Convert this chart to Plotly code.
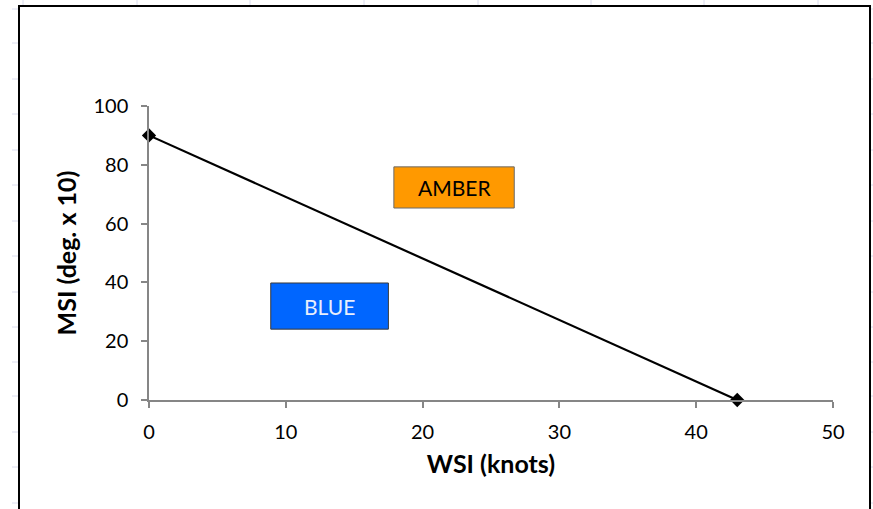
import plotly.graph_objects as go

# Data
wsi_knots = [0, 43]
msi_deg10 = [90, 0]
x_ticks = [0, 10, 20, 30, 40, 50]
y_ticks = [0, 20, 40, 60, 80, 100]
zone_labels = ["AMBER", "BLUE"]

FONT = "Lato"
W, H = 873, 509
L, R, T, B = 149, 40, 106, 109
PW, PH = W - L - R, H - T - B

def px_to_paper_x(px):
    return (px - L) / PW

def px_to_paper_y(py):
    return (H - B - py) / PH

fig = go.Figure()
fig.add_trace(go.Scatter(
    x=wsi_knots, y=msi_deg10, mode="lines+markers",
    line=dict(color="black", width=2.2),
    marker=dict(symbol="diamond", size=11, color="black"),
    showlegend=False, cliponaxis=False,
))

shapes = []
grid_col = "#dadcee"
for cx in [23, 137, 250, 364, 478, 591, 704, 818]:
    shapes.append(dict(type="line", xref="paper", yref="paper",
                       x0=px_to_paper_x(cx), x1=px_to_paper_x(cx),
                       y0=px_to_paper_y(0), y1=px_to_paper_y(6),
                       line=dict(color=grid_col, width=1), layer="below"))
for ry in [9, 43, 79, 114, 150, 185, 221, 256, 292, 327, 362, 396, 432, 467, 503]:
    for xa, xb in [(12, 19), (870, 873)]:
        shapes.append(dict(type="line", xref="paper", yref="paper",
                           x0=px_to_paper_x(xa), x1=px_to_paper_x(xb),
                           y0=px_to_paper_y(ry), y1=px_to_paper_y(ry),
                           line=dict(color=grid_col, width=1), layer="below"))
shapes.append(dict(type="rect", xref="paper", yref="paper",
                   x0=px_to_paper_x(19), x1=px_to_paper_x(870),
                   y0=px_to_paper_y(520), y1=px_to_paper_y(6),
                   line=dict(color="black", width=2), fillcolor="rgba(0,0,0,0)",
                   layer="below"))
shapes.append(dict(type="rect", xref="x", yref="y", x0=17.9, x1=26.7, y0=65.3, y1=79.3,
                   fillcolor="#FF9900", line=dict(color="#6b6b6b", width=1)))
shapes.append(dict(type="rect", xref="x", yref="y", x0=8.9, x1=17.5, y0=24.1, y1=39.8,
                   fillcolor="#0066FF", line=dict(color="#3a3a3a", width=1)))

annotations = [
    dict(x=(17.9 + 26.7) / 2, y=(65.3 + 79.3) / 2, xref="x", yref="y", text=zone_labels[0],
         showarrow=False, font=dict(family=FONT, size=21, color="black")),
    dict(x=(8.9 + 17.5) / 2, y=(24.1 + 39.8) / 2, xref="x", yref="y", text=zone_labels[1],
         showarrow=False, font=dict(family=FONT, size=21, color="#e8eefc")),
]

fig.update_layout(
    width=W, height=H,
    margin=dict(l=L, r=R, t=T, b=B),
    paper_bgcolor="white", plot_bgcolor="white",
    shapes=shapes, annotations=annotations,
    font=dict(family=FONT, size=20, color="black"),
)
fig.update_xaxes(
    range=[0, 50], tickvals=x_ticks, showgrid=False, zeroline=False,
    showline=True, linecolor="#868686", linewidth=1.5,
    ticks="outside", ticklen=6, tickcolor="#868686", tickwidth=1.5,
    tickfont=dict(family=FONT, size=20), ticklabelstandoff=7,
    title=dict(text="<b>WSI (knots)</b>", font=dict(family=FONT, size=25), standoff=14),
)
fig.update_yaxes(
    range=[0, 100], tickvals=y_ticks, showgrid=False, zeroline=False,
    showline=True, linecolor="#868686", linewidth=1.5,
    ticks="outside", ticklen=6, tickcolor="#868686", tickwidth=1.5,
    tickfont=dict(family=FONT, size=20), ticklabelstandoff=9,
    title=dict(text="<b>MSI (deg. x 10)</b>", font=dict(family=FONT, size=25), standoff=10),
)

fig.write_html("out.html", config={"displayModeBar": False},
               post_script="document.body.style.margin='0';")
